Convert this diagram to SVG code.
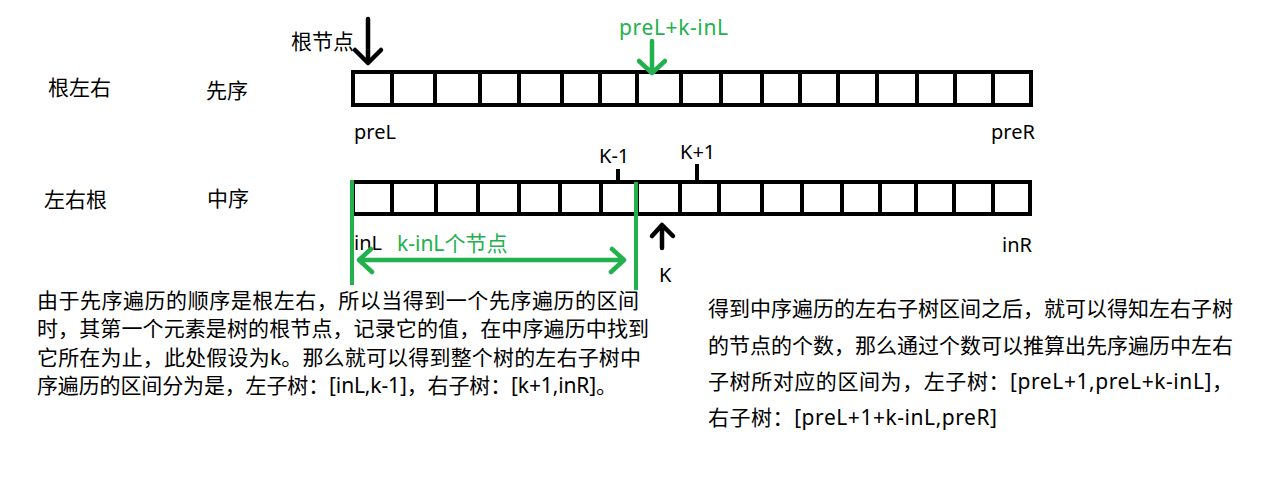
<svg xmlns="http://www.w3.org/2000/svg" width="1272" height="490" viewBox="0 0 1272 490">
<style>
.t{font-family:"Noto Sans","Noto Sans CJK SC",sans-serif;font-size:20px;fill:#000}
.c{font-family:"Noto Sans","Noto Sans CJK SC",sans-serif;font-size:21px;fill:#000}
.g{fill:#22b14c}
.box{fill:#fff;stroke:#000;stroke-width:4}
.div{stroke:#000;stroke-width:4}
.bk{fill:none;stroke:#000;stroke-width:4.5;stroke-linecap:round;stroke-linejoin:round}
.gr{fill:none;stroke:#22b14c;stroke-width:4.5;stroke-linecap:round;stroke-linejoin:round}
.gl{stroke:#22b14c;stroke-width:4}
</style>
<rect width="1272" height="490" fill="#fff"/>
<g id="labels">
<text class="c" x="48" y="95">根左右</text>
<text class="c" x="206" y="98">先序</text>
<text class="c" x="44" y="207">左右根</text>
<text class="c" x="207" y="206">中序</text>
<text class="c" x="291" y="49">根节点</text>
<text class="c g" x="619" y="35" textLength="109" lengthAdjust="spacing">preL+k-inL</text>
<text class="t" x="354" y="139">preL</text>
<text class="t" x="991" y="139">preR</text>
<text class="t" x="599" y="163">K-1</text>
<text class="t" x="680" y="159">K+1</text>
<text class="t" x="354" y="250">inL</text>
<text class="c g" x="397" y="251">k-inL个节点</text>
<text class="t" x="1002" y="252">inR</text>
<text class="t" x="659" y="282">K</text>
</g>
<g id="preorder">
<rect class="box" x="353" y="72" width="678" height="33"/>
<path class="div" d="M392 72V105M435 72V105M480 72V105M519 72V105M562 72V105M600 72V105M637 72V105M681 72V105M721 72V105M762 72V105M800 72V105M838 72V105M877 72V105M917 72V105M955 72V105M993 72V105"/>
</g>
<g id="inorder">
<rect class="box" x="353" y="182" width="677" height="32"/>
<path class="div" d="M392 182V214M436 182V214M478 182V214M519 182V214M560 182V214M601 182V214M637 182V214M680 182V214M719 182V214M762 182V214M802 182V214M842 182V214M880 182V214M916 182V214M954 182V214M993 182V214"/>
<path class="div" d="M618 169V182M697 164V182"/>
</g>
<g id="connectors">
<path class="bk" d="M368 19V62M355 50L368 63L381 50"/>
<path class="gr" d="M652 41V72M639 61L652 73L665 61"/>
<path class="bk" d="M662 226V248M652 236L662 225L673 236"/>
<path class="gl" d="M352 180V285M636 182V290"/>
<path class="gr" d="M359 260H624M371 249L359 260L372 272M612 249L624 260L611 272"/>
</g>
<g id="note-left">
<text class="c" x="37" y="308" textLength="602" lengthAdjust="spacing">由于先序遍历的顺序是根左右，所以当得到一个先序遍历的区间</text>
<text class="c" x="37" y="336" textLength="612" lengthAdjust="spacing">时，其第一个元素是树的根节点，记录它的值，在中序遍历中找到</text>
<text class="c" x="37" y="365" textLength="604" lengthAdjust="spacing">它所在为止，此处假设为k。那么就可以得到整个树的左右子树中</text>
<text class="c" x="37" y="393" textLength="580" lengthAdjust="spacing">序遍历的区间分为是，左子树：[inL,k-1]，右子树：[k+1,inR]。</text>
</g>
<g id="note-right">
<text class="c" x="708" y="316" textLength="525" lengthAdjust="spacing">得到中序遍历的左右子树区间之后，就可以得知左右子树</text>
<text class="c" x="708" y="353" textLength="525" lengthAdjust="spacing">的节点的个数，那么通过个数可以推算出先序遍历中左右</text>
<text class="c" x="708" y="389" textLength="525" lengthAdjust="spacing">子树所对应的区间为，左子树：[preL+1,preL+k-inL]，</text>
<text class="c" x="708" y="425" textLength="289" lengthAdjust="spacing">右子树：[preL+1+k-inL,preR]</text>
</g>
</svg>
